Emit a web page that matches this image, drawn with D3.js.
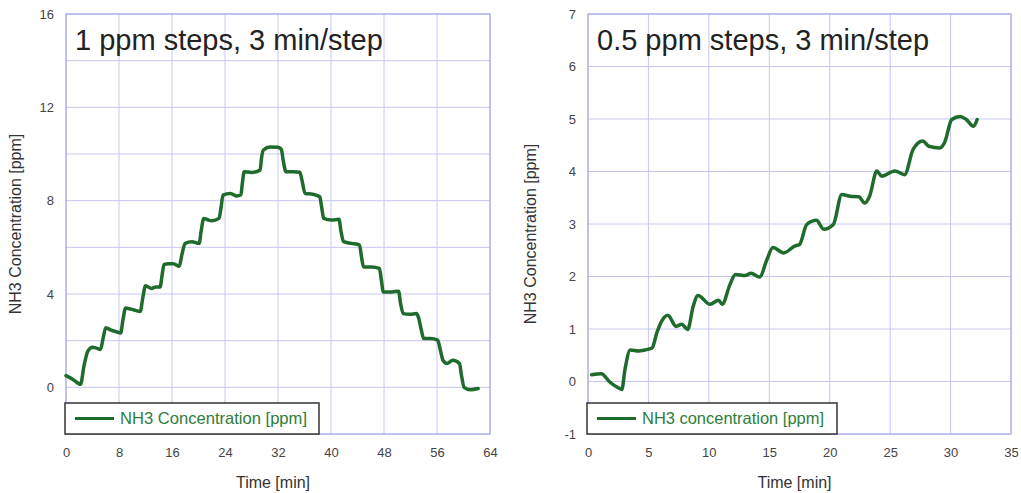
<!DOCTYPE html>
<html><head><meta charset="utf-8">
<script src="https://cdn.jsdelivr.net/npm/d3@7"></script>
<style>
body{margin:0;background:#fff;}
svg{display:block;font-family:"Liberation Sans",Arial,sans-serif;}
</style></head>
<body><svg id="c" width="1021" height="493"></svg>
<script>
// Left chart: 1 ppm steps
const leftTitle = "1 ppm steps, 3 min/step";
const leftLegend = "NH3 Concentration [ppm]";
const leftTime = [0,1.0,2.2,2.7,3.3,4.0,4.6,5.2,5.6,6.0,6.8,7.6,8.25,8.6,9.0,9.8,10.5,11.2,11.6,12.0,12.9,13.6,14.2,14.5,14.8,15.5,16.2,17.1,17.5,18.0,19.0,20.1,20.4,20.8,21.4,22.0,23.1,23.4,23.7,24.8,25.8,26.4,26.6,26.9,28.0,29.3,29.5,29.8,30.8,32.0,32.5,32.8,33.2,34.3,35.3,35.6,36.1,37.2,38.3,38.6,38.9,40.1,41.2,41.5,41.9,43.1,44.3,44.6,44.9,46.1,47.3,47.6,47.9,49.2,50.2,50.5,50.9,51.9,52.9,53.2,53.6,54.0,55.0,56.1,56.5,56.9,57.5,58.4,59.4,59.7,60.1,61.0,62.2];
const leftConc = [0.5,0.35,0.13,0.9,1.55,1.72,1.68,1.62,2.1,2.55,2.45,2.38,2.33,2.9,3.4,3.35,3.3,3.25,3.85,4.35,4.24,4.3,4.3,4.8,5.27,5.3,5.3,5.19,5.7,6.17,6.24,6.17,6.7,7.24,7.18,7.14,7.24,7.7,8.24,8.31,8.2,8.25,8.7,9.24,9.21,9.31,9.8,10.17,10.3,10.29,10.2,9.7,9.24,9.24,9.22,8.9,8.31,8.28,8.17,7.7,7.24,7.17,7.2,6.7,6.24,6.17,6.1,5.6,5.16,5.16,5.1,4.6,4.09,4.09,4.12,3.6,3.16,3.13,3.16,3.0,2.5,2.09,2.09,2.02,1.6,1.16,1.02,1.16,1.02,0.5,0.0,-0.1,-0.05];
const leftXTicks = [0,8,16,24,32,40,48,56,64];
const leftYTicks = [0,4,8,12,16];
const leftYGrid = [-2,0,2,4,6,8,10,12,14,16];

// Right chart: 0.5 ppm steps
const rightTitle = "0.5 ppm steps, 3 min/step";
const rightLegend = "NH3 concentration [ppm]";
const rightTime = [0.3,1.1,1.8,2.5,2.8,3.06,3.5,4.2,4.7,5.3,5.7,6.1,6.6,7.3,7.75,8.25,8.7,9.1,10.1,10.8,11.1,11.75,12.2,13.0,13.5,14.2,14.8,15.3,16.2,17.1,17.5,18.1,18.9,19.5,20.3,21.0,21.7,22.4,22.9,23.3,23.9,24.3,25.4,26.2,26.9,27.7,28.2,29.1,29.5,30.1,30.8,31.3,31.9,32.2];
const rightConc = [0.13,0.15,-0.01,-0.12,-0.15,0.23,0.6,0.58,0.6,0.64,0.93,1.15,1.26,1.05,1.09,0.99,1.43,1.64,1.47,1.55,1.47,1.85,2.04,2.02,2.06,1.99,2.32,2.55,2.45,2.58,2.61,2.99,3.07,2.9,2.99,3.56,3.53,3.52,3.40,3.53,4.01,3.91,4.01,3.94,4.42,4.58,4.48,4.45,4.55,4.99,5.05,4.99,4.86,4.99];
const rightXTicks = [0,5,10,15,20,25,30,35];
const rightYTicks = [-1,0,1,2,3,4,5,6,7];

const yTitle = "NH3 Concentration [ppm]";
const xTitle = "Time [min]";

const svg = d3.select("#c");
const lineColor = "#1e6b2b";
const gridColor = "#c6c6f2";
const frameColor = "#9d9de8";

function panel(o){
  const g = svg.append("g");
  const x = d3.scaleLinear().domain(o.xd).range([o.x0, o.x1]);
  const y = d3.scaleLinear().domain(o.yd).range([o.y1, o.y0]);
  g.selectAll(".vg").data(o.xTicks).enter().append("line")
    .attr("x1", d=>x(d)).attr("x2", d=>x(d)).attr("y1", o.y0).attr("y2", o.y1)
    .attr("stroke", gridColor).attr("stroke-width", 1);
  g.selectAll(".hg").data(o.yGrid).enter().append("line")
    .attr("y1", d=>y(d)).attr("y2", d=>y(d)).attr("x1", o.x0).attr("x2", o.x1)
    .attr("stroke", gridColor).attr("stroke-width", 1);
  g.append("rect").attr("x", o.x0).attr("y", o.y0).attr("width", o.x1-o.x0).attr("height", o.y1-o.y0)
    .attr("fill","none").attr("stroke", frameColor).attr("stroke-width",1);
  const xa = g.append("g").attr("transform",`translate(0,${o.y1})`)
    .call(d3.axisBottom(x).tickValues(o.xTicks).tickSize(0).tickPadding(14).tickFormat(d=>String(d)));
  const ya = g.append("g").attr("transform",`translate(${o.x0},0)`)
    .call(d3.axisLeft(y).tickValues(o.yTicks).tickSize(0).tickPadding(o.yPad).tickFormat(d=>String(d)));
  [xa,ya].forEach(a=>{
    a.select(".domain").remove();
    a.selectAll("text").attr("font-size", 13).attr("fill","#444")
      .attr("font-family", '"Liberation Sans",Arial,sans-serif');
  });
  g.append("text").attr("x", o.x0+9).attr("y", o.y0+36).text(o.title)
    .attr("font-size", 29).attr("fill","#222");
  const data = o.t.map((t,i)=>[t,o.v[i]]);
  g.append("path").datum(data)
    .attr("d", d3.line().x(d=>x(d[0])).y(d=>y(d[1])).curve(d3.curveMonotoneX))
    .attr("fill","none").attr("stroke", lineColor).attr("stroke-width", 3.5)
    .attr("stroke-linejoin","round").attr("stroke-linecap","round");
  const lg = g.append("g");
  lg.append("rect").attr("x", o.x0-1).attr("y", o.y1-31).attr("width", o.legW).attr("height", 31)
    .attr("fill","#fff").attr("stroke","#333").attr("stroke-width",1.5);
  lg.append("line").attr("x1", o.x0+9).attr("x2", o.x0+48).attr("y1", o.y1-15.5).attr("y2", o.y1-15.5)
    .attr("stroke", lineColor).attr("stroke-width", 3);
  lg.append("text").attr("x", o.x0+54).attr("y", o.y1-10).text(o.legend)
    .attr("font-size", 16.5).attr("fill","#2f7d3a")
    .attr("textLength", o.legTL).attr("lengthAdjust","spacingAndGlyphs");
  g.append("text").attr("x", (o.x0+o.x1)/2 - 5).attr("y", o.y1+54).attr("text-anchor","middle")
    .text(xTitle).attr("font-size", 16).attr("fill","#333");
  g.append("text").attr("transform",`translate(${o.yTitleX},${o.yTitleY}) rotate(-90)`)
    .attr("text-anchor","middle").text(yTitle).attr("font-size", 16).attr("fill","#333");
}

panel({x0:66,x1:490,y0:14,y1:434,xd:[0,64],yd:[-2,16],xTicks:leftXTicks,yTicks:leftYTicks,yGrid:leftYGrid,
  t:leftTime,v:leftConc,title:leftTitle,legend:leftLegend,legW:254,legTL:187,yPad:12,yTitleX:21,yTitleY:224});
panel({x0:588,x1:1011,y0:14,y1:434,xd:[0,35],yd:[-1,7],xTicks:rightXTicks,yTicks:rightYTicks,yGrid:rightYTicks,
  t:rightTime,v:rightConc,title:rightTitle,legend:rightLegend,legW:250,legTL:182,yPad:12,yTitleX:536,yTitleY:234});
</script></body></html>
